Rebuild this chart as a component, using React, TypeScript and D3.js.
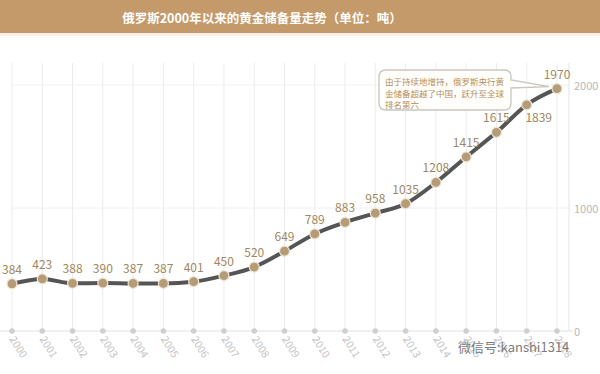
import * as d3 from "d3";
import React from "react";

const years = [
  "2000", "2001", "2002", "2003", "2004", "2005", "2006", "2007", "2008", "2009",
  "2010", "2011", "2012", "2013", "2014", "2015", "2016", "2017", "2018",
];
const reserves = [
  384, 423, 388, 390, 387, 387, 401, 450, 520, 649,
  789, 883, 958, 1035, 1208, 1415, 1615, 1839, 1970,
];
const yTicks = [0, 1000, 2000];
const title = "俄罗斯2000年以来的黄金储备量走势（单位：吨）";
const noteLines = [
  "由于持续地增持，俄罗斯央行黄",
  "金储备超越了中国，跃升至全球",
  "排名第六",
];

const W = 600;
const H = 374;
const FONT = "'Noto Sans CJK SC', 'Noto Sans', sans-serif";
const TAN = "#b69b77";
const LABEL = "#a08760";

export default function App() {
  const x = d3.scalePoint<string>().domain(years).range([12, 557]);
  const y = d3.scaleLinear().domain([0, 2000]).range([331, 85]);

  const pts = years.map((yr, i) => ({ yr, v: reserves[i] }));
  const line = d3
    .line<{ yr: string; v: number }>()
    .x((d) => x(d.yr)!)
    .y((d) => y(d.v))
    .curve(d3.curveMonotoneX);

  const axisX = 569;
  const last = pts[pts.length - 1];

  return (
    <svg width={W} height={H} style={{ position: "absolute", left: 0, top: 0, background: "#fff" }}>
      <rect x={0} y={0} width={W} height={H} fill="#fff" />
      {/* title bar */}
      <rect x={0} y={0} width={W} height={33} fill="#c49a6b" />
      <rect x={0} y={33} width={W} height={3} fill="#f6efe6" />
      <text x={262} y={17} textAnchor="middle" dominantBaseline="central"
        fill="#fff" fontFamily={FONT} fontSize={12.5} fontWeight="bold">
        {title}
      </text>

      {/* grid */}
      {years.map((yr) => (
        <line key={yr} x1={x(yr)} x2={x(yr)} y1={63} y2={331} stroke="#ebebeb" strokeWidth={1} />
      ))}
      {yTicks.filter((t) => t > 0).map((t) => (
        <line key={t} x1={12} x2={axisX} y1={y(t)} y2={y(t)} stroke="#f0f0f0" strokeWidth={1} />
      ))}
      <line x1={axisX} x2={axisX} y1={63} y2={331} stroke="#e3e3e3" />
      <line x1={0} x2={axisX + 4} y1={331} y2={331} stroke="#e0e0e0" />
      {yTicks.map((t) => (
        <text key={t} x={axisX + 5} y={y(t)} dominantBaseline="central" fill="#b8b8b8"
          fontFamily={FONT} fontSize={11}>
          {t}
        </text>
      ))}

      {/* x axis */}
      {years.map((yr) => (
        <g key={yr}>
          <circle cx={x(yr)} cy={331} r={2.8} fill="#cfcfcf" />
          <text transform={`translate(${x(yr)! - 3},${339}) rotate(58)`} fill="#c4c4c4"
            fontFamily={FONT} fontSize={10.5}>
            {yr}
          </text>
        </g>
      ))}

      {/* series */}
      <path d={line(pts)!} fill="none" stroke="#555" strokeWidth={4} />
      {pts.map((d) => (
        <circle key={d.yr} cx={x(d.yr)} cy={y(d.v)} r={5} fill={TAN} stroke="#efe4d4" strokeWidth={1.2} />
      ))}
      {pts.map((d) => {
        const below = d.yr === "2017";
        return (
          <text key={d.yr} x={x(d.yr)! + (below ? 12 : 0)} y={y(d.v) + (below ? 12 : -10)}
            textAnchor="middle" dominantBaseline={below ? "central" : "auto"} fill={LABEL}
            fontFamily={FONT} fontSize={12}>
            {d.v}
          </text>
        );
      })}

      {/* annotation */}
      <path
        d={`M386,70 H504 Q511,70 511,77 V80 L${x(last.yr)! - 8},${y(last.v) - 2} L511,88 V103 Q511,110 504,110 H386 Q379,110 379,103 V77 Q379,70 386,70 Z`}
        fill="#fffefb" stroke="#c9c6bf" strokeWidth={1.3} />
      {noteLines.map((l, i) => (
        <text key={i} x={385} y={81 + i * 11.5} fill="#b38e5f" fontFamily={FONT} fontSize={8.5}
          dominantBaseline="central">
          {l}
        </text>
      ))}

      {/* watermark */}
      <text x={458} y={346} fill="#666" fontFamily={FONT} fontSize={13} dominantBaseline="central"
        opacity={0.85}>
        微信号:kanshi1314
      </text>
    </svg>
  );
}
